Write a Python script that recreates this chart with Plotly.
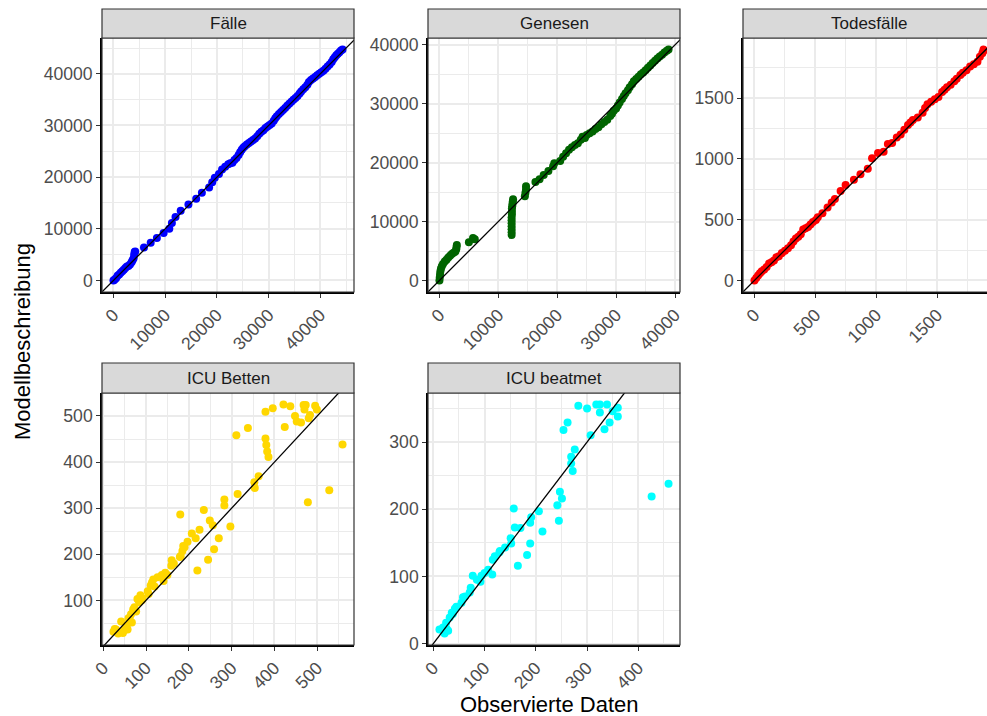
import plotly.graph_objects as go

W, H = 987, 716
FONT = "Liberation Sans, Arial, Helvetica, sans-serif"

# ---------------- data (observed vs model) ----------------
faelle_obs = [0, 200, 500, 800, 1100, 1400, 1700, 2000, 2300, 2600, 2900, 3200, 3500, 3700, 3900, 4000, 4100, 4200,
              5900, 7200, 8400, 9700, 10800, 11300, 12000, 13000, 14500, 16000, 17100, 18500, 19100, 19600, 20400,
              21000, 21600, 22200, 22600,
              23000, 23400, 23800, 24200, 24500, 24800, 25100, 25400, 25800, 26200, 26600, 27000, 27400, 27800,
              28200, 28600, 29000, 29400, 29800, 30200, 30600, 31000, 31300, 31600, 32000, 32400, 32800, 33200,
              33600, 34000, 34400, 34800, 35200, 35600, 36000, 36300, 36700, 37100, 37500, 37800, 38200, 38600,
              39000, 39400, 39800, 40200, 40600, 41000, 41400, 41800, 42200, 42500, 42800, 43100, 43400, 43700,
              44000, 44300]
faelle_mod = [0, 150, 450, 900, 1150, 1500, 1800, 2050, 2400, 2700, 2800, 3100, 3500, 3900, 4300, 5000, 5500, 5600,
              6400, 7300, 8200, 9200, 10000, 11100, 12300, 13500, 14700, 15800, 17000, 18000, 19000, 19900, 20600,
              21500, 22000, 22500, 22700,
              22800, 23300, 23700, 24300, 24800, 25300, 25700, 26000, 26300, 26600, 26900, 27200, 27500, 27900,
              28400, 28800, 29100, 29500, 29800, 30100, 30400, 30900, 31400, 31800, 32200, 32600, 33000, 33400,
              33800, 34200, 34600, 35000, 35300, 35700, 36200, 36600, 37000, 37400, 37900, 38400, 38800, 39100,
              39400, 39700, 40000, 40300, 40600, 41000, 41400, 41800, 42300, 42800, 43200, 43600, 43900, 44200,
              44500, 44700]

genesen_obs = [0, 50, 100, 150, 250, 400, 600, 900, 1200, 1500, 1800, 2100, 2400, 2700, 2850, 2900, 2950,
               5000, 5700, 6000,
               12250, 12250, 12250, 12250, 12250, 12250, 12250, 12300, 12300, 12300, 12350, 12400, 12450, 12500,
               14500, 14600, 14700, 14700, 16300, 17000, 17700, 18500, 19300, 19500, 20500, 21000, 21500, 22000,
               22500, 23000, 23500, 24000, 24300, 24700, 25000, 25500, 26000, 26500, 27000, 27500, 28000, 28500,
               29000, 29300, 29600, 30000, 30300, 30600, 31000, 31300, 31600, 32000, 32300, 32700, 33000, 33400,
               33800, 34200, 34600, 35000, 35400, 35800, 36200, 36600, 37000, 37400, 37800, 38200, 38600, 38900]
genesen_mod = [0, 500, 1000, 1500, 2000, 2400, 2800, 3200, 3500, 3900, 4200, 4500, 4700, 4900, 5300, 5700, 6000,
               6500, 7200, 7000,
               7700, 8200, 8700, 9200, 9700, 10200, 10700, 11200, 11700, 12200, 12600, 13000, 13400, 13800,
               14300, 14900, 15500, 16000, 16700, 17200, 17900, 18600, 19400, 19900, 20300, 21000, 21600, 22200,
               22600, 23000, 23300, 23900, 24400, 24200, 24700, 25000, 25300, 25700, 26000, 26500, 26900, 27300,
               27900, 28300, 28800, 29200, 29700, 30200, 30800, 31300, 31800, 32300, 32800, 33300, 33800, 34200,
               34600, 35000, 35300, 35700, 36100, 36500, 36900, 37300, 37700, 38000, 38300, 38700, 39000, 39200]

tod_obs = [0, 15, 30, 45, 60, 80, 100, 120, 140, 160, 180, 200, 225, 250, 275, 300, 320, 340, 360, 380, 400,
           420, 440, 460, 480, 504, 520, 558, 600, 634, 660, 707, 748, 816, 870, 930, 965, 1014, 1060, 1095,
           1130, 1168, 1200, 1230, 1260, 1280, 1300, 1340, 1380, 1400, 1420, 1450, 1480, 1510, 1540, 1560, 1580,
           1610, 1640, 1660, 1690, 1710, 1740, 1770, 1800, 1830, 1850, 1870, 1880, 1880]
tod_mod = [0, 20, 40, 60, 75, 90, 110, 140, 150, 165, 190, 200, 225, 245, 265, 290, 320, 345, 360, 380, 420,
           430, 440, 460, 480, 498, 520, 553, 600, 641, 670, 737, 786, 828, 874, 920, 1006, 1048, 1060, 1122,
           1130, 1177, 1200, 1240, 1280, 1300, 1320, 1340, 1380, 1420, 1450, 1470, 1490, 1510, 1550, 1570, 1590,
           1610, 1640, 1660, 1690, 1710, 1730, 1760, 1780, 1800, 1840, 1870, 1890, 1900]

betten_obs = [421, 437, 396, 379, 468, 473, 470, 495, 499, 448, 452, 462, 483, 480, 424, 338, 311, 379, 381, 383,
              386, 559, 363, 353, 354, 314, 528, 478, 283, 283, 235, 180, 249, 256, 297, 225, 207, 216, 270, 259,
              245, 220, 197, 187, 185, 181, 179, 160, 159, 145, 137, 127, 117, 114, 111, 104, 106, 141, 87, 80,
              84, 73, 77, 65, 59, 67, 55, 42, 49, 46, 30, 24, 38, 57, 62, 70, 90, 120, 150, 165, 190, 92, 53, 35, 27]
betten_mod = [525, 521, 517, 509, 524, 524, 514, 522, 514, 500, 488, 486, 502, 495, 476, 474, 458, 451, 437, 423,
              411, 438, 369, 356, 344, 331, 339, 313, 319, 306, 296, 286, 273, 263, 260, 253, 245, 235, 235, 211,
              188, 165, 227, 218, 207, 196, 194, 187, 175, 160, 155, 150, 145, 139, 132, 120, 114, 142, 111, 103,
              96, 85, 76, 70, 61, 52, 45, 54, 35, 29, 37, 32, 31, 37, 62, 80, 100, 130, 155, 180, 215, 104, 42, 28, 38]

beatmet_obs = [283, 300, 318, 325, 339, 325, 350, 360, 360, 344, 334, 262, 254, 307, 276, 269, 269, 272, 459, 426,
               247, 251, 242, 245, 157, 206, 191, 189, 213, 159, 151, 152, 189, 183, 165, 140, 129, 120, 116, 115,
               107, 94, 92, 77, 73, 71, 58, 55, 42, 36, 32, 25, 19, 12, 22, 29, 45, 62, 85, 100, 130, 170, 26, 38]
beatmet_mod = [354, 350, 356, 356, 356, 344, 346, 351, 338, 329, 319, 329, 318, 310, 289, 278, 268, 257, 238, 219,
               226, 216, 206, 183, 201, 197, 188, 180, 167, 173, 157, 149, 149, 132, 116, 143, 136, 130, 125, 103,
               110, 101, 92, 101, 83, 76, 69, 61, 52, 46, 39, 31, 24, 21, 15, 19, 55, 70, 95, 105, 138, 172, 22, 44]

facet_titles = ["Fälle", "Genesen", "Todesfälle", "ICU Betten", "ICU beatmet"]
colors = ["#0000FF", "#006400", "#FF0000", "#FFD700", "#00FFFF"]
x_dticks = [10000, 10000, 500, 100, 100]
y_dticks = [10000, 10000, 500, 100, 100]
series = [(faelle_obs, faelle_mod), (genesen_obs, genesen_mod), (tod_obs, tod_mod),
          (betten_obs, betten_mod), (beatmet_obs, beatmet_mod)]

# ---------------- layout geometry (pixels) ----------------
# (x0, x1 full panel, x1 visible), (y0, y1), strip (y0, y1)
geom = [
    ((102, 354, 354), (38, 292), (9, 38)),
    ((428, 680, 680), (38, 292), (9, 38)),
    ((743, 995, 987), (38, 292), (9, 38)),
    ((102, 354, 354), (393, 645), (363, 393)),
    ((428, 680, 680), (393, 645), (363, 393)),
]


def fx(px):
    return px / W


def fy(py):
    return 1 - py / H


def expand(v):
    lo, hi = min(v), max(v)
    d = hi - lo
    return lo - 0.05 * d, hi + 0.05 * d


fig = go.Figure()
shapes = []
annotations = []
layout = {}

GRID = "#EBEBEB"
for i, ((obs, mod), title, col, xdt, ydt, g) in enumerate(
        zip(series, facet_titles, colors, x_dticks, y_dticks, geom)):
    n = "" if i == 0 else str(i + 1)
    (x0, x1full, x1vis), (y0, y1), (s0, s1) = g
    xlo, xhi = expand(obs)
    ylo, yhi = expand(mod)
    xhi_vis = xlo + (xhi - xlo) * (x1vis - x0) / (x1full - x0)

    fig.add_trace(go.Scatter(
        x=obs, y=mod, mode="markers", xaxis="x" + n, yaxis="y" + n,
        marker=dict(color=col, size=8, line=dict(width=0)), showlegend=False,
        hoverinfo="skip"))
    lmin = min(xlo, ylo)
    lmax = max(xhi, yhi)
    fig.add_trace(go.Scatter(
        x=[lmin, lmax], y=[lmin, lmax], mode="lines", xaxis="x" + n, yaxis="y" + n,
        line=dict(color="black", width=1.3), showlegend=False, hoverinfo="skip"))

    common = dict(
        automargin=False,
        showgrid=True, gridcolor=GRID, gridwidth=1.6, zeroline=False,
        showline=True, linecolor="black", linewidth=1.6,
        ticks="outside", ticklen=4, tickwidth=1.1, tickcolor="#333333",
        tickfont=dict(family=FONT, size=17.6, color="#4D4D4D"),
        tickmode="linear", tick0=0, tickformat="d", exponentformat="none",
    )
    layout["xaxis" + n] = dict(
        common, domain=[fx(x0), fx(x1vis)], range=[xlo, xhi_vis], anchor="y" + n,
        dtick=xdt, tickangle=-45,
        minor=dict(dtick=xdt / 2, tick0=0, showgrid=True, gridcolor=GRID, gridwidth=0.8))
    layout["yaxis" + n] = dict(
        common, domain=[fy(y1), fy(y0)], range=[ylo, yhi], anchor="x" + n,
        dtick=ydt,
        minor=dict(dtick=ydt / 2, tick0=0, showgrid=True, gridcolor=GRID, gridwidth=0.8))

    # panel border
    shapes.append(dict(type="rect", xref="paper", yref="paper",
                       x0=fx(x0), x1=fx(x1full), y0=fy(y1), y1=fy(y0),
                       line=dict(color="#333333", width=1.2), fillcolor="rgba(0,0,0,0)", layer="above"))
    # strip
    shapes.append(dict(type="rect", xref="paper", yref="paper",
                       x0=fx(x0), x1=fx(x1full), y0=fy(s1), y1=fy(s0),
                       line=dict(color="#333333", width=1.2), fillcolor="#D9D9D9", layer="above"))
    annotations.append(dict(text=title, xref="paper", yref="paper",
                            x=fx((x0 + x1full) / 2), y=fy((s0 + s1) / 2),
                            xanchor="center", yanchor="middle", showarrow=False,
                            font=dict(family=FONT, size=17, color="#1A1A1A")))

annotations.append(dict(text="Observierte Daten", xref="paper", yref="paper",
                        x=fx(549), y=fy(704), xanchor="center", yanchor="middle", showarrow=False,
                        font=dict(family=FONT, size=22, color="black")))
annotations.append(dict(text="Modellbeschreibung", xref="paper", yref="paper",
                        x=fx(22), y=fy(342), xanchor="center", yanchor="middle", showarrow=False,
                        textangle=-90, font=dict(family=FONT, size=22, color="black")))

fig.update_layout(
    template="none",
    width=W, height=H, autosize=False,
    margin=dict(l=0, r=0, t=0, b=0, pad=0),
    paper_bgcolor="white", plot_bgcolor="white",
    font=dict(family=FONT),
    shapes=shapes, annotations=annotations,
    **layout,
)

fig.write_html("out.html", config={"displayModeBar": False},
               post_script="document.body.style.margin='0';document.body.style.overflow='hidden';")
